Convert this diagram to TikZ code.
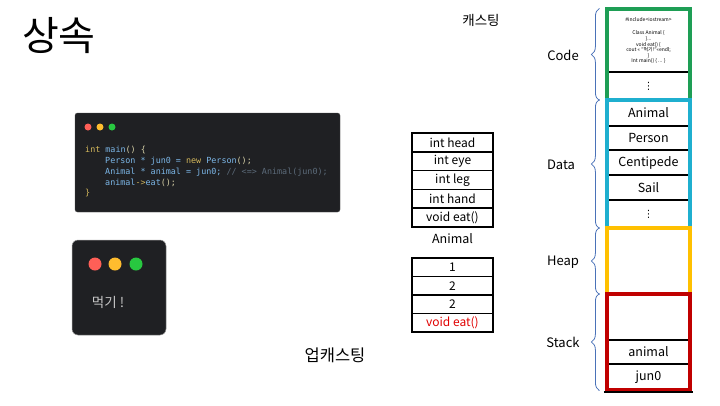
\documentclass[tikz,border=0pt]{standalone}
\usepackage{fontspec}
\setmainfont{Noto Sans CJK KR}
\setmonofont{DejaVu Sans Mono}
\newfontfamily\symfnt{DejaVu Sans}
\usetikzlibrary{decorations.pathreplacing}
\definecolor{winbg}{HTML}{1F2023}
\definecolor{kw}{HTML}{D4B85C}
\definecolor{idc}{HTML}{7CB7E8}
\definecolor{cm}{HTML}{5C6B7A}
\definecolor{pun}{HTML}{D8D2A8}
\definecolor{dotr}{HTML}{FF5F57}
\definecolor{doty}{HTML}{FEBC2E}
\definecolor{dotg}{HTML}{28C840}
\definecolor{segcode}{HTML}{1E9E55}
\definecolor{segdata}{HTML}{1FAFCF}
\definecolor{segheap}{HTML}{FFC000}
\definecolor{segstack}{HTML}{C00000}
\definecolor{bracec}{HTML}{4A72B8}
\definecolor{eatred}{HTML}{E00000}
\begin{document}
\begin{tikzpicture}[x=1pt,y=-1pt,
  cell/.style={draw=black, line width=1.6pt, minimum width=81pt, minimum height=18.8pt, inner sep=0pt, font=\fontsize{12}{14}\selectfont},
  memcell/.style={draw=black, line width=2pt, minimum width=83pt, inner sep=0pt, font=\fontsize{12.5}{14}\selectfont},
  vdotcell/.style={memcell, font=\symfnt\fontsize{10}{10}\selectfont},
  seg/.style={line width=3.2pt, minimum width=83pt, inner sep=0pt},
  membrace/.style={draw=bracec, line width=0.8pt, decorate, decoration={brace, amplitude=8pt}},
  seglabel/.style={font=\fontsize{13}{15}\selectfont},
  codeline/.style={anchor=west, inner sep=0pt, font=\ttfamily\fontsize{8.4}{10}\selectfont},
  dot/.style={circle, inner sep=0pt, draw=none}
]
\useasboundingbox (0,0) rectangle (720,405);

% title and headings
\node (title) at (59,36) {\fontsize{40}{44}\selectfont 상속};
\node (casting) at (481,20) {\fontsize{13.5}{15}\selectfont 캐스팅};
\node (upcasting) at (335,355) {\fontsize{16.5}{18}\selectfont 업캐스팅};

% code window
\node[fill=winbg, draw=black!70, line width=0.4pt, rounded corners=2.5pt, minimum width=265pt, minimum height=99pt] (win) at (207.5,162.5) {};
\node[dot, fill=dotr, minimum size=7pt] (w1) at (88,127) {};
\node[dot, fill=doty, minimum size=7pt] (w2) at (100,127) {};
\node[dot, fill=dotg, minimum size=7pt] (w3) at (112,127) {};
\node[codeline] (l1) at (85,150) {\color{kw}int \color{idc}main\color{pun}() \{};
\node[codeline] (l2) at (105,161) {\color{idc}Person * jun0 = \color{kw}new \color{idc}Person\color{pun}();};
\node[codeline] (l3) at (105,172) {\color{idc}Animal * animal = jun0; \color{cm}// <=> Animal(jun0);};
\node[codeline] (l4) at (105,183) {\color{idc}animal\color{kw}->\color{idc}eat\color{pun}();};
\node[codeline] (l5) at (85,193) {\color{kw}\}};

% output window
\node[fill=winbg, draw=black!40, line width=0.5pt, rounded corners=6pt, minimum width=94pt, minimum height=95pt] (out) at (119,287.5) {};
\node[dot, fill=dotr, minimum size=13pt] (o1) at (95,264) {};
\node[dot, fill=doty, minimum size=13pt] (o2) at (115,264) {};
\node[dot, fill=dotg, minimum size=13pt] (o3) at (136,264) {};
\node (eat) at (108,302) {\fontsize{13.5}{15}\selectfont\color{black!22}먹기 !};

% Animal struct
\node[cell] (a1) at (452.5,142.4) {int head};
\node[cell] (a2) at (452.5,161.2) {int eye};
\node[cell] (a3) at (452.5,180.0) {int leg};
\node[cell] (a4) at (452.5,198.8) {int hand};
\node[cell] (a5) at (452.5,217.6) {void eat()};
\node[font=\fontsize{12.5}{14}\selectfont] (animallbl) at (452.5,239) {Animal};
\node[cell, minimum height=18.5pt] (p1) at (452.5,267.25) {1};
\node[cell, minimum height=18.5pt] (p2) at (452.5,285.75) {2};
\node[cell, minimum height=18.5pt] (p3) at (452.5,304.25) {2};
\node[cell, minimum height=18.5pt, text=eatred] (p4) at (452.5,322.75) {void eat()};

% memory: code segment
\node[memcell, minimum height=63pt, align=center, font=\fontsize{5}{5.6}\selectfont] (codetxt) at (648.5,40.5) {\#include<iostream>\\[8.3pt] Class Animal \{\\ \}...\\ void eat() \{\\ cout << “먹기!”<<endl;\\ \}\\ Int main() \{ ... \}};
\node[vdotcell, minimum height=28pt] (codedots) at (648.5,86) {⋮};
% data segment
\node[memcell, minimum height=26pt] (d1) at (648.5,113) {Animal};
\node[memcell, minimum height=24pt] (d2) at (648.5,138) {Person};
\node[memcell, minimum height=25pt] (d3) at (648.5,162.5) {Centipede};
\node[memcell, minimum height=25pt] (d4) at (648.5,187.5) {Sail};
\node[vdotcell, minimum height=28pt] (d5) at (648.5,214) {⋮};
% stack cells
\node[memcell, minimum height=46pt] (s0) at (648.5,317) {};
\node[memcell, minimum height=24pt] (s1) at (648.5,352) {animal};
\node[memcell, minimum height=26pt] (s2) at (648.5,377) {jun0};

% segment frames
\node[seg, draw=segcode, minimum height=91pt] (code) at (648.5,54.5) {};
\node[seg, draw=segdata, minimum height=128pt] (data) at (648.5,164) {};
\node[seg, draw=segheap, minimum height=66pt] (heap) at (648.5,261) {};
\node[seg, draw=segstack, minimum height=96pt] (stack) at (648.5,342) {};
\draw[line width=2pt] ([xshift=-1.5pt]stack.south west) -- ([xshift=1.5pt]stack.south east);

% braces and labels
\draw[membrace] ([xshift=-6pt,yshift=1pt]code.south west) -- ([xshift=-6pt,yshift=-1pt]code.north west);
\draw[membrace] ([xshift=-6pt,yshift=1pt]data.south west) -- ([xshift=-6pt,yshift=-1pt]data.north west);
\draw[membrace] ([xshift=-6pt,yshift=1pt]heap.south west) -- ([xshift=-6pt,yshift=-1pt]heap.north west);
\draw[membrace] ([xshift=-6pt,yshift=1pt]stack.south west) -- ([xshift=-6pt,yshift=-1pt]stack.north west);
\node[seglabel] (lcode) at (563,55) {Code};
\node[seglabel] (ldata) at (561,165) {Data};
\node[seglabel] (lheap) at (563,262) {Heap};
\node[seglabel] (lstack) at (563,342) {Stack};
\end{tikzpicture}
\end{document}
